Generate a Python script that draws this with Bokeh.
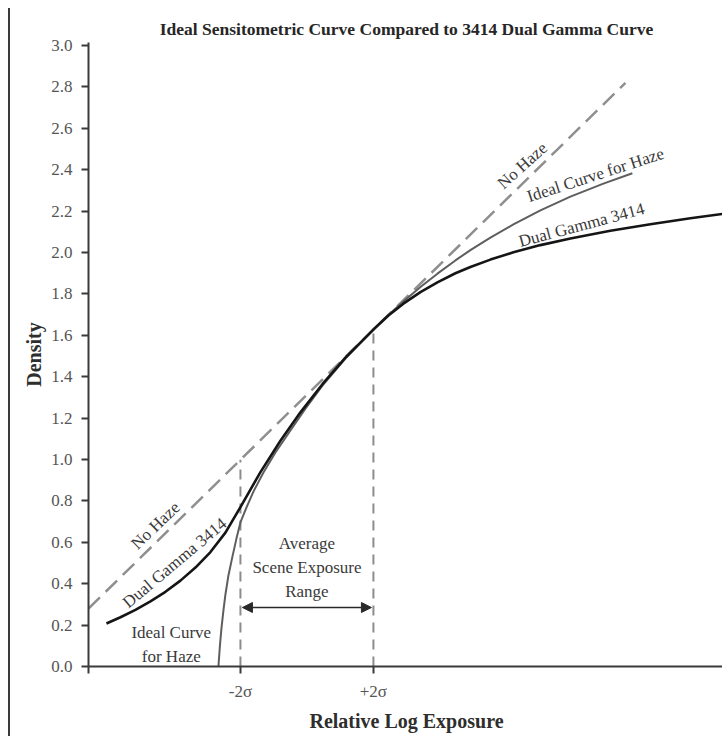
import math
from bokeh.plotting import figure
from bokeh.models import Range1d, FixedTicker, PrintfTickFormatter, Arrow, NormalHead, BoxAnnotation
from bokeh.core.properties import value
from bokeh.embed import file_html
from bokeh.resources import INLINE

# ---------------- data ----------------
title_text = "Ideal Sensitometric Curve Compared to 3414 Dual Gamma Curve"
x_label = "Relative Log Exposure"
y_label = "Density"

# x in units of sigma (relative log exposure), y = density
x_start, x_end = -6.57, 12.56
y_start, y_end = 0.0, 3.015

y_ticks = [0.0, 0.2, 0.4, 0.6, 0.8, 1.0, 1.2, 1.4, 1.6, 1.8, 2.0, 2.2, 2.4, 2.6, 2.8, 3.0]
x_ticks = [x_start, -2, 2]
x_tick_labels = ["", "-2σ", "+2σ"]

# "No Haze" straight line
nohaze_x = [-6.57, 9.58]
nohaze_y = [0.28, 2.82]

# Dual Gamma 3414 curve
dual_x = [-6.030, -5.609, -5.158, -4.707, -4.256, -3.805, -3.353, -2.902, -2.451, -2.000,
          -1.398, -0.797, -0.195, 0.466, 1.158, 2.000, 2.451, 2.902, 3.414, 3.925,
          4.466, 4.917, 5.519, 6.211, 7.023, 7.925, 9.128, 10.331, 11.534, 12.556]
dual_y = [0.208, 0.238, 0.274, 0.315, 0.361, 0.415, 0.478, 0.553, 0.647, 0.770,
          0.939, 1.091, 1.228, 1.364, 1.492, 1.628, 1.696, 1.753, 1.809, 1.856,
          1.900, 1.930, 1.966, 2.001, 2.036, 2.068, 2.105, 2.137, 2.166, 2.188]

# Ideal Curve for Haze
ideal_x = [-2.662, -2.617, -2.571, -2.511, -2.451, -2.361, -2.241, -2.120, -2.000, -1.820,
           -1.609, -1.308, -0.947, -0.496, -0.045, 0.466, 1.158, 2.000, 2.451, 2.902,
           3.414, 3.925, 4.466, 4.917, 5.519, 6.211, 7.023, 7.925, 8.917, 9.789]
ideal_y = [0.000, 0.101, 0.184, 0.271, 0.348, 0.440, 0.531, 0.618, 0.696, 0.768,
           0.845, 0.937, 1.034, 1.140, 1.246, 1.357, 1.488, 1.628, 1.698, 1.764,
           1.834, 1.898, 1.962, 2.012, 2.072, 2.136, 2.204, 2.270, 2.333, 2.383]

# +/- 2 sigma markers (from 0 up to the No Haze line)
sigma_x = [-2, 2]
sigma_top = [0.999, 1.628]
range_arrow_y = 0.285

# annotation texts
rot_texts = ["No Haze", "Dual Gamma 3414", "No Haze", "Ideal Curve for Haze", "Dual Gamma 3414"]
rot_x = [-4.556, -3.980, 6.48, 8.68, 8.26]
rot_y = [0.681, 0.500, 2.42, 2.375, 2.133]
rot_deg = [44, 40, 42, 18, 15]

flat_texts = ["Ideal Curve\nfor Haze", "Average\nScene Exposure\nRange"]
flat_x = [-4.08, 0.0]
flat_y = [0.106, 0.478]

# ---------------- figure ----------------
SERIF = "Liberation Serif"
FRAME_COLOR = "#3a3a3a"

p = figure(width=714, height=728,
           x_range=Range1d(x_start, x_end), y_range=Range1d(y_start, y_end),
           output_backend="svg", toolbar_location=None,
           min_border_left=78, min_border_right=0, min_border_top=34, min_border_bottom=70,
           title=title_text)
p.styles = {"margin-left": "8px", "margin-top": "8px",
            "border-left": f"2px solid {FRAME_COLOR}"}
p.outline_line_color = None
p.background_fill_color = "white"
p.border_fill_color = "white"
p.xgrid.visible = False
p.ygrid.visible = False

# top rule of the picture frame
p.add_layout(BoxAnnotation(left=0, right=714, top=0, bottom=2,
                           left_units="canvas", right_units="canvas",
                           top_units="canvas", bottom_units="canvas",
                           fill_color=FRAME_COLOR, fill_alpha=1.0, line_color=None,
                           level="overlay", editable=False))

p.title.text_font = SERIF
p.title.text_font_size = "17.5px"
p.title.text_font_style = "bold"
p.title.text_color = "#262626"
p.title.align = "center"
p.title.standoff = 8

for ax in (p.xaxis[0], p.yaxis[0]):
    ax.axis_line_color = FRAME_COLOR
    ax.axis_line_width = 2
    ax.major_tick_line_color = FRAME_COLOR
    ax.major_tick_line_width = 2
    ax.major_tick_out = 7
    ax.major_tick_in = 0
    ax.minor_tick_line_color = None
    ax.major_label_text_font = SERIF
    ax.major_label_text_font_size = "17px"
    ax.major_label_text_color = "#555555"
    ax.axis_label_text_font = SERIF
    ax.axis_label_text_font_size = "20px"
    ax.axis_label_text_font_style = "bold"
    ax.axis_label_text_color = "#2e2e2e"

p.yaxis[0].ticker = FixedTicker(ticks=y_ticks)
p.yaxis[0].formatter = PrintfTickFormatter(format="%.1f")
p.yaxis[0].major_label_standoff = 9
p.yaxis[0].axis_label = y_label
p.yaxis[0].axis_label_standoff = 3

p.xaxis[0].ticker = FixedTicker(ticks=x_ticks)
p.xaxis[0].major_label_overrides = {t: lab for t, lab in zip(x_ticks, x_tick_labels)}
p.xaxis[0].major_label_standoff = 8
p.xaxis[0].axis_label = x_label
p.xaxis[0].axis_label_standoff = 6

# sigma vertical dashed lines
for sx, top in zip(sigma_x, sigma_top):
    p.line([sx, sx], [y_start, top], line_color="#8c8c8c", line_width=2, line_dash="10 7")

# No Haze dashed line
p.line(nohaze_x, nohaze_y, line_color="#8f8f8f", line_width=2.5, line_dash="16 8")

# Ideal curve for haze
p.line(ideal_x, ideal_y, line_color="#5e5e5e", line_width=2, line_join="round")

# Dual gamma curve
p.line(dual_x, dual_y, line_color="#151515", line_width=2.6, line_join="round")

# range arrow
p.add_layout(Arrow(x_start=sigma_x[0] + 0.06, x_end=sigma_x[1] - 0.06,
                   y_start=range_arrow_y, y_end=range_arrow_y,
                   line_color="#2a2a2a", line_width=1.5,
                   start=NormalHead(size=10, fill_color="#2a2a2a", line_color="#2a2a2a"),
                   end=NormalHead(size=10, fill_color="#2a2a2a", line_color="#2a2a2a")))

p.text(x=rot_x, y=rot_y, text=rot_texts, angle=[math.radians(a) for a in rot_deg],
       text_font=value(SERIF), text_font_size="17px", text_color="#3a3a3a",
       text_align="center", text_baseline="middle")

p.text(x=flat_x, y=flat_y, text=flat_texts,
       text_font=value(SERIF), text_font_size="17px", text_color="#3a3a3a",
       text_align="center", text_baseline="middle", text_line_height=1.25)

open("out.html", "w").write(file_html(p, INLINE))
